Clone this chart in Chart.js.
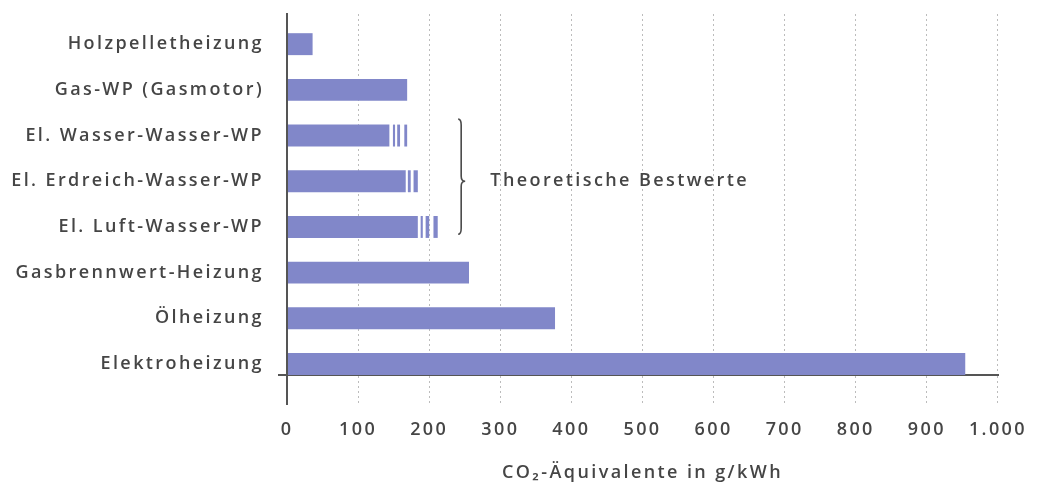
<!DOCTYPE html>
<html>
<head>
<meta charset="utf-8">
<script src="https://cdn.jsdelivr.net/npm/chart.js@4"></script>
<style>
  html, body { margin: 0; padding: 0; background: #fff; }
  #wrap { width: 1041px; height: 486px; }
</style>
</head>
<body>
<div id="wrap"><canvas id="chart"></canvas></div>
<script>
// Values (g CO2-equivalent per kWh)
const categories = [
  'Holzpelletheizung',
  'Gas-WP (Gasmotor)',
  'El. Wasser-Wasser-WP',
  'El. Erdreich-Wasser-WP',
  'El. Luft-Wasser-WP',
  'Gasbrennwert-Heizung',
  'Ölheizung',
  'Elektroheizung',
]
const co2Values = [36, 169, 144, 167, 184, 256, 377, 954]

// striped tails of the heat pump bars, [from, to]
const stripeA = [null, null, [149, 152], [170, 174], [188, 191], null, null, null]
const stripeB = [null, null, [155, 159], [178, 184], [195, 200], null, null, null]
const stripeC = [null, null, [165, 169], null, [206, 212], null, null, null]

const xMin = 0
const xMax = 1000
const xStep = 100
const axisTitle = 'CO₂-Äquivalente in g/kWh'
const noteText = 'Theoretische Bestwerte'
const noteRows = [2, 4]   // rows covered by the brace
const bracketAt = 245     // x value of the brace
const noteAt = 286        // x value where the note starts

const barColor = '#8187c9'
const textColor = '#454545'
const axisColor = '#555555'
const gridColor = '#bcbcbc'
const fontFamily = "'Open Sans', 'DejaVu Sans', sans-serif"
const labelFont = { family: fontFamily, size: 18, weight: '600' }
const spacing = '2.4px'
const yMin = -0.66
const yMax = 7.24

function toPoints(values) {
  return values
    .map((v, i) => (v === null ? null : { x: v, y: i }))
    .filter((p) => p)
}

const barDefaults = {
  backgroundColor: barColor,
  borderWidth: 0,
  grouped: false,
  barPercentage: 0.48,
  categoryPercentage: 1,
}

// letter spacing, axis stub and brace with note
const notePlugin = {
  id: 'notePlugin',
  beforeLayout(chart) {
    chart.ctx.letterSpacing = spacing
  },
  beforeDraw(chart) {
    chart.ctx.letterSpacing = spacing
  },
  afterDraw(chart) {
    const { ctx, scales, chartArea } = chart
    ctx.save()
    // little overhang of the x axis left of the y axis
    ctx.strokeStyle = axisColor
    ctx.lineWidth = 2
    ctx.beginPath()
    ctx.moveTo(chartArea.left - 9, chartArea.bottom)
    ctx.lineTo(chartArea.left, chartArea.bottom)
    ctx.stroke()

    const x = scales.x.getPixelForValue(bracketAt)
    const top = scales.y.getPixelForValue(noteRows[0] - 0.36)
    const bottom = scales.y.getPixelForValue(noteRows[1] + 0.16)
    const mid = scales.y.getPixelForValue((noteRows[0] + noteRows[1]) / 2)
    ctx.strokeStyle = '#4a4a4a'
    ctx.lineWidth = 1.6
    ctx.beginPath()
    ctx.moveTo(x - 3, top)
    ctx.quadraticCurveTo(x, top, x, top + 6)
    ctx.lineTo(x, mid - 5)
    ctx.quadraticCurveTo(x, mid, x + 4, mid)
    ctx.quadraticCurveTo(x, mid, x, mid + 5)
    ctx.lineTo(x, bottom - 6)
    ctx.quadraticCurveTo(x, bottom, x - 3, bottom)
    ctx.stroke()

    ctx.letterSpacing = spacing
    ctx.fillStyle = textColor
    ctx.font = labelFont.weight + ' 18px ' + fontFamily
    ctx.textAlign = 'left'
    ctx.textBaseline = 'middle'
    ctx.fillText(noteText, scales.x.getPixelForValue(noteAt), mid)
    ctx.restore()
  },
}

const ctx = document.getElementById('chart').getContext('2d')

const chart = new Chart(ctx, {
  type: 'bar',
  data: {
    datasets: [
      { ...barDefaults, data: toPoints(co2Values) },
      { ...barDefaults, data: toPoints(stripeA) },
      { ...barDefaults, data: toPoints(stripeB) },
      { ...barDefaults, data: toPoints(stripeC) },
    ],
  },
  options: {
    indexAxis: 'y',
    responsive: true,
    maintainAspectRatio: false,
    animation: false,
    layout: { padding: { top: 14, right: 36, left: 0, bottom: 0 } },
    plugins: {
      legend: { display: false },
      tooltip: { enabled: false },
    },
    scales: {
      x: {
        type: 'linear',
        position: 'bottom',
        min: xMin,
        max: xMax,
        afterFit: (s) => { s.height = 111 },
        ticks: {
          stepSize: xStep,
          color: textColor,
          padding: 14,
          font: labelFont,
          callback: (v) => v.toLocaleString('de-DE'),
        },
        grid: {
          color: (c) => (c.index === 0 ? axisColor : gridColor),
          lineWidth: (c) => (c.index === 0 ? 2 : 1),
          tickColor: (c) => (c.index === 0 ? axisColor : gridColor),
          tickWidth: (c) => (c.index === 0 ? 2 : 1),
          tickBorderDash: (c) => (c.index === 0 ? [] : [2, 3]),
          tickLength: 30,
        },
        border: {
          display: true,
          color: axisColor,
          width: 2,
          dash: (c) => (c.index === 0 ? [] : [2, 3]),
        },
        title: {
          display: true,
          text: axisTitle,
          color: textColor,
          font: labelFont,
          padding: { top: 0, bottom: 2 },
        },
      },
      y: {
        type: 'linear',
        min: yMin,
        max: yMax,
        reverse: true,
        offset: false,
        afterFit: (s) => {
          s.width = 287
          s.paddingTop = 0
          s.paddingBottom = 0
        },
        afterBuildTicks: (s) => {
          s.ticks = categories.map((_, i) => ({ value: i }))
        },
        ticks: {
          autoSkip: false,
          color: textColor,
          padding: 15,
          font: labelFont,
          callback: (v) => categories[v] ?? '',
        },
        grid: { display: false },
        border: { display: true, color: axisColor, width: 2 },
      },
    },
  },
  plugins: [notePlugin],
})
</script>
</body>
</html>
